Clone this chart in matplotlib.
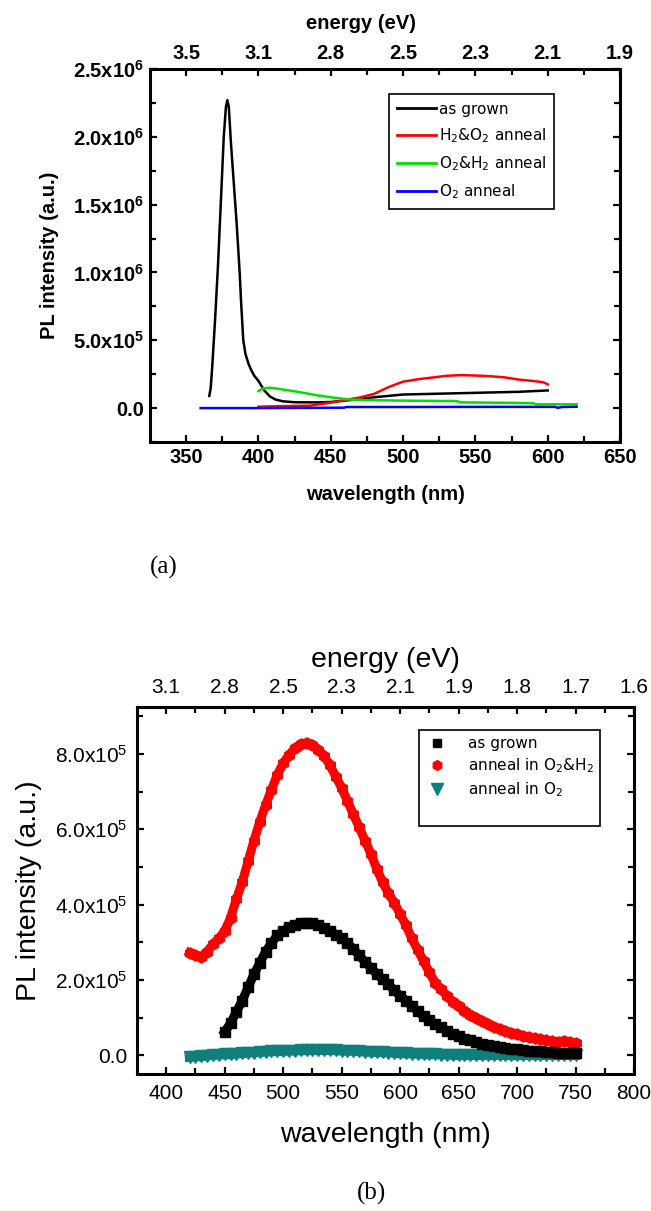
import numpy as np
import matplotlib.pyplot as plt
from matplotlib.lines import Line2D

plt.rcParams['font.family'] = ['Liberation Sans', 'DejaVu Sans']
plt.rcParams['mathtext.default'] = 'regular'

# ---- panel (a): PL spectra, lines ----
wl_grown_a = [366, 367, 368, 370, 372, 374, 376, 377.5, 378.5, 379.5, 381, 383, 385, 387,
              388, 389.5, 391, 393, 395, 397, 400, 404, 408, 412, 417, 425, 440, 450,
              460, 470, 480, 490, 500, 520, 540, 560, 580, 600]
pl_grown_a = [0.9e5, 1.5e5, 3.0e5, 6.5e5, 1.05e6, 1.52e6, 2.0e6, 2.22e6, 2.27e6, 2.22e6,
              1.95e6, 1.65e6, 1.35e6, 1.0e6, 0.78e6, 0.5e6, 0.4e6, 0.33e6, 0.28e6, 0.24e6,
              0.2e6, 0.13e6, 0.085e6, 0.062e6, 0.05e6, 0.043e6, 0.042e6, 0.045e6, 0.055e6,
              0.068e6, 0.08e6, 0.09e6, 0.1e6, 0.105e6, 0.11e6, 0.115e6, 0.12e6, 0.13e6]

wl_h2o2 = [400, 410, 420, 430, 436, 440, 450, 460, 470, 480, 490, 500, 510, 520, 530, 540,
           550, 560, 570, 580, 590, 597, 600]
pl_h2o2 = [1.0e4, 1.3e4, 1.5e4, 1.7e4, 1.8e4, 2.5e4, 4.0e4, 6.0e4, 7.8e4, 1.05e5, 1.55e5,
           1.95e5, 2.12e5, 2.25e5, 2.38e5, 2.43e5, 2.4e5, 2.35e5, 2.27e5, 2.1e5, 2.0e5,
           1.9e5, 1.75e5]

wl_o2h2_a = [400, 403, 408, 412, 420, 430, 440, 450, 457, 465, 480, 500, 520, 537, 540,
             560, 580, 590, 592, 600, 620]
pl_o2h2_a = [1.25e5, 1.45e5, 1.5e5, 1.45e5, 1.32e5, 1.15e5, 9.5e4, 8.0e4, 7.0e4, 6.2e4,
             5.8e4, 5.5e4, 5.3e4, 5.2e4, 4.2e4, 4.0e4, 3.8e4, 3.6e4, 2.8e4, 2.8e4, 2.8e4]

wl_o2_a = [360, 400, 440, 459, 461, 500, 560, 605, 607, 610, 620]
pl_o2_a = [0, 0, 2e3, 3e3, 8e3, 8e3, 9e3, 9e3, 2e3, 8e3, 1e4]

wl_ticks_a = [350, 400, 450, 500, 550, 600, 650]
ev_labels_a = ['3.5', '3.1', '2.8', '2.5', '2.3', '2.1', '1.9']
y_ticks_a = [0, 5e5, 1e6, 1.5e6, 2e6, 2.5e6]
y_labels_a = ['0.0', '5.0x10$^{5}$', '1.0x10$^{6}$', '1.5x10$^{6}$', '2.0x10$^{6}$', '2.5x10$^{6}$']

# ---- panel (b): PL spectra, markers ----
wl_red_b = list(range(420, 751, 5))
pl_red_b = [2.72e5, 2.65e5, 2.62e5, 2.75e5, 2.95e5, 3.1e5, 3.3e5, 3.65e5, 4.15e5, 4.6e5,
            5.15e5, 5.7e5, 6.2e5, 6.65e5, 7.05e5, 7.45e5, 7.75e5, 7.98e5, 8.15e5, 8.27e5,
            8.3e5, 8.25e5, 8.12e5, 7.95e5, 7.7e5, 7.4e5, 7.1e5, 6.75e5, 6.4e5, 6.05e5,
            5.7e5, 5.35e5, 4.95e5, 4.6e5, 4.3e5, 4.05e5, 3.75e5, 3.45e5, 3.1e5, 2.8e5,
            2.5e5, 2.2e5, 1.92e5, 1.75e5, 1.58e5, 1.42e5, 1.3e5, 1.18e5, 1.08e5, 0.98e5,
            0.9e5, 0.82e5, 0.75e5, 0.7e5, 0.64e5, 0.6e5, 0.56e5, 0.52e5, 0.48e5, 0.45e5,
            0.42e5, 0.39e5, 0.37e5, 0.36e5, 0.38e5, 0.35e5, 0.32e5]

wl_black_b = list(range(450, 751, 5))
pl_black_b = [0.62e5, 0.85e5, 1.15e5, 1.45e5, 1.8e5, 2.15e5, 2.45e5, 2.75e5, 2.98e5, 3.18e5,
              3.3e5, 3.4e5, 3.47e5, 3.5e5, 3.52e5, 3.5e5, 3.45e5, 3.38e5, 3.3e5, 3.2e5,
              3.1e5, 2.98e5, 2.82e5, 2.65e5, 2.48e5, 2.32e5, 2.15e5, 2.02e5, 1.88e5, 1.72e5,
              1.58e5, 1.45e5, 1.3e5, 1.17e5, 1.03e5, 0.93e5, 0.83e5, 0.74e5, 0.65e5, 0.57e5,
              0.5e5, 0.44e5, 0.39e5, 0.34e5, 0.3e5, 0.27e5, 0.25e5, 0.22e5, 0.19e5, 0.17e5,
              0.16e5, 0.14e5, 0.12e5, 0.11e5, 0.1e5, 0.09e5, 0.08e5, 0.07e5, 0.06e5, 0.055e5,
              0.05e5]

wl_teal_b = list(range(420, 751, 5))
pl_teal_b = [-5e3, -4e3, -3e3, -1.5e3, 0, 1e3, 2e3, 3e3, 4e3, 5e3, 6e3, 7e3, 8e3, 9e3,
             1.0e4, 1.05e4, 1.1e4, 1.15e4, 1.2e4, 1.25e4, 1.3e4, 1.3e4, 1.3e4, 1.3e4, 1.3e4,
             1.25e4, 1.2e4, 1.15e4, 1.1e4, 1.0e4, 9e3, 8.5e3, 8e3, 7.5e3, 7e3, 6e3, 5e3,
             4.5e3, 4e3, 3.5e3, 3e3, 2.5e3, 2e3, 1.5e3, 1e3, 500, 0, 0, 0, 0, 0, 0, 0, 0,
             0, 0, 0, 0, 0, 0, 0, 0, 0, 0, 0, 0, 0]

wl_ticks_b = [400, 450, 500, 550, 600, 650, 700, 750, 800]
ev_labels_b = ['3.1', '2.8', '2.5', '2.3', '2.1', '1.9', '1.8', '1.7', '1.6']
y_ticks_b = [0, 2e5, 4e5, 6e5, 8e5]
y_labels_b = ['0.0', '2.0x10$^{5}$', '4.0x10$^{5}$', '6.0x10$^{5}$', '8.0x10$^{5}$']

teal = '#0e7f7a'

fig = plt.figure(figsize=(6.51, 12.11), dpi=100)
W, H = 651, 1211


def box(l, t, r, b):
    return [l / W, 1 - b / H, (r - l) / W, (b - t) / H]


def style_axes(ax, top, wl_ticks, ev_labels, minor_x, minor_y, fs, weight, pad):
    for sp in ax.spines.values():
        sp.set_linewidth(2.2)
    for a in (ax, top):
        a.tick_params(which='both', direction='in', width=1.6, labelsize=fs, pad=pad)
        a.tick_params(which='major', length=5)
        a.tick_params(which='minor', length=4)
    ax.tick_params(which='both', right=True)
    ax.set_xticks(wl_ticks)
    ax.set_xticks(minor_x, minor=True)
    ax.set_yticks(minor_y, minor=True)
    top.set_xlim(ax.get_xlim())
    top.set_xticks(wl_ticks)
    top.set_xticklabels(ev_labels)
    top.set_xticks(minor_x, minor=True)
    for lab in ax.get_xticklabels() + ax.get_yticklabels() + top.get_xticklabels():
        lab.set_fontweight(weight)


# ---------------- (a) ----------------
ax1 = fig.add_axes(box(150, 69, 620, 442))
ax1.plot(wl_grown_a, pl_grown_a, color='black', lw=1.8)
ax1.plot(wl_h2o2, pl_h2o2, color='#ff0000', lw=1.8)
ax1.plot(wl_o2h2_a, pl_o2h2_a, color='#00e000', lw=1.8)
ax1.plot(wl_o2_a, pl_o2_a, color='#0000ff', lw=1.8)
ax1.set_xlim(325, 650)
ax1.set_ylim(-2.5e5, 2.5e6)
ax1.set_yticks(y_ticks_a)
ax1.set_yticklabels(y_labels_a)
top1 = ax1.twiny()
style_axes(ax1, top1, wl_ticks_a, ev_labels_a, [375, 425, 475, 525, 575, 625],
           [-2.5e5, 2.5e5, 7.5e5, 1.25e6, 1.75e6, 2.25e6], 14.5, 'bold', 4)
ax1.set_xlabel('wavelength (nm)', fontsize=14.5, fontweight='bold', labelpad=13)
ax1.set_ylabel('PL intensity (a.u.)', fontsize=14.5, fontweight='bold', labelpad=10)
top1.set_xlabel('energy (eV)', fontsize=14.5, fontweight='bold')
top1.xaxis.label.set_verticalalignment('bottom')
top1.xaxis.set_label_coords(0.45, 1 + 36 / 373)

h_a = [Line2D([], [], color=c, lw=2) for c in ['black', '#ff0000', '#00e000', '#0000ff']]
leg1 = ax1.legend(h_a, ['as grown', 'H$_2$&O$_2$ anneal', 'O$_2$&H$_2$ anneal', 'O$_2$ anneal'],
                  loc='upper left', bbox_to_anchor=(389 / W, 1 - 94 / H),
                  bbox_transform=fig.transFigure, borderaxespad=0, fancybox=False,
                  framealpha=1, edgecolor='black', handlelength=2.6, handletextpad=0.15,
                  labelspacing=0.62, borderpad=0.5,
                  prop={'family': 'DejaVu Sans', 'size': 11})
leg1.get_frame().set_linewidth(1.2)

fig.text(150 / W, 1 - 567 / H, '(a)', family='Liberation Serif', fontsize=18,
         ha='left', va='center')

# ---------------- (b) ----------------
ax2 = fig.add_axes(box(137, 707, 634, 1074))
ax2.plot(wl_teal_b, pl_teal_b, 'v-', color=teal, ms=8.5, mec=teal, lw=7)
ax2.plot(wl_red_b, pl_red_b, 'h-', color='#ff0000', ms=8, mec='#ff0000', lw=6.5)
ax2.plot(wl_black_b, pl_black_b, 's-', color='black', ms=7, lw=6.5)
ax2.set_xlim(375, 800)
ax2.set_ylim(-5e4, 9.25e5)
ax2.set_yticks(y_ticks_b)
ax2.set_yticklabels(y_labels_b)
top2 = ax2.twiny()
style_axes(ax2, top2, wl_ticks_b, ev_labels_b, list(range(425, 800, 50)),
           [1e5, 3e5, 5e5, 7e5, 9e5], 15, 'normal', 7)
ax2.set_xlabel('wavelength (nm)', fontsize=20.5, labelpad=14)
ax2.set_ylabel('PL intensity (a.u.)', fontsize=20.5, labelpad=9)
top2.set_xlabel('energy (eV)', fontsize=20.5, labelpad=8)

h_b = [Line2D([], [], ls='none', marker='s', color='black', ms=6),
       Line2D([], [], ls='none', marker='h', color='#ff0000', ms=7),
       Line2D([], [], ls='none', marker='v', color=teal, ms=8),
       Line2D([], [], ls='none')]
leg2 = ax2.legend(h_b, ['as grown', 'anneal in O$_2$&H$_2$', 'anneal in O$_2$', ' '],
                  loc='upper left', bbox_to_anchor=(419 / W, 1 - 730 / H),
                  bbox_transform=fig.transFigure, borderaxespad=0, fancybox=False,
                  framealpha=1, edgecolor='black', handlelength=1.5, handletextpad=1.3,
                  labelspacing=0.35, prop={'family': 'DejaVu Sans', 'size': 11})
leg2.get_frame().set_linewidth(1.2)

fig.text(371 / W, 1 - 1193 / H, '(b)', family='Liberation Serif', fontsize=18,
         ha='center', va='center')

fig.savefig('out.png', dpi=100)
